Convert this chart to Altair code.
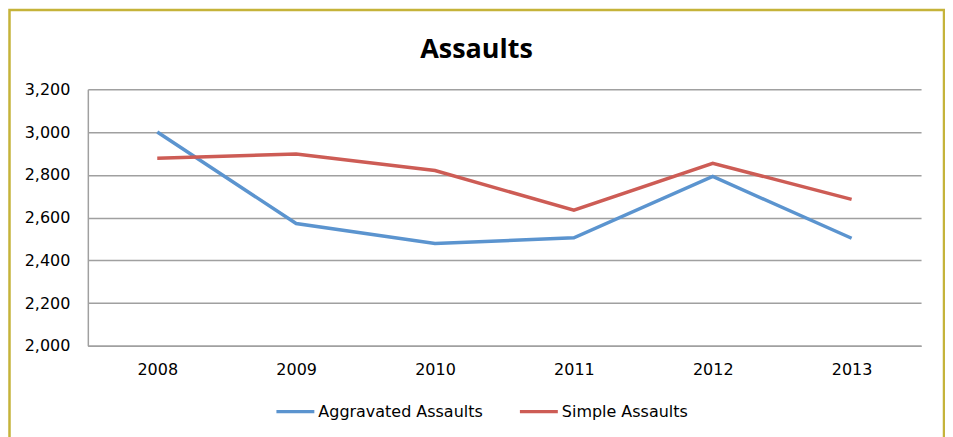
import altair as alt
import pandas as pd

years = ["2008", "2009", "2010", "2011", "2012", "2013"]
aggravated = [3000, 2572, 2479, 2505, 2792, 2503]
simple = [2878, 2897, 2820, 2634, 2854, 2685]
series_names = ["Aggravated Assaults", "Simple Assaults"]
series_colors = ["#5B94CF", "#CD5C55"]

rows = []
for name, vals in zip(series_names, [aggravated, simple]):
    for y, v in zip(years, vals):
        rows.append({"Year": y, "Value": v, "Series": name})
df = pd.DataFrame(rows)

FONT = "DejaVu Sans"
TITLE_FONT = "Open Sans"

lines = alt.Chart(df).mark_line(strokeWidth=3.5).encode(
    x=alt.X("Year:O", sort=years, title=None,
            axis=alt.Axis(labelAngle=0, ticks=False, grid=False, domainColor="#A0A0A0",
                          domainWidth=1.5, labelFontSize=16, labelFont=FONT,
                          labelColor="#000000", labelPadding=16)),
    y=alt.Y("Value:Q", title=None,
            scale=alt.Scale(domain=[2000, 3200], nice=False, zero=False),
            axis=alt.Axis(values=[2000, 2200, 2400, 2600, 2800, 3000, 3200], format=",.0f",
                          ticks=False, gridColor="#A0A0A0", gridWidth=1.5,
                          domainColor="#A0A0A0", domainWidth=1.5, labelFontSize=16,
                          labelFont=FONT, labelColor="#000000", labelPadding=18)),
    color=alt.Color("Series:N", sort=series_names,
                    scale=alt.Scale(domain=series_names, range=series_colors),
                    legend=alt.Legend(title=None, orient="none", direction="horizontal",
                                      legendX=187, legendY=302, symbolType="stroke",
                                      symbolSize=1444, symbolStrokeWidth=3.5,
                                      labelFontSize=16, labelFont=FONT, labelColor="#000000",
                                      labelOffset=2, columnPadding=30, labelLimit=400)),
)

border = alt.Chart(alt.Data(values=[{"b": 1}])).mark_rect(
    fill=None, stroke="#C5B33A", strokeWidth=2.5
).encode(
    x=alt.value(-78.5), x2=alt.value(858), y=alt.value(-79.5), y2=alt.value(381)
)

chart = alt.layer(border, lines).properties(
    width=835, height=257,
    title=alt.Title("Assaults", fontSize=27, fontWeight="bold", font=TITLE_FONT,
                    color="#000000", anchor="middle", frame="group", dx=-28,
                    baseline="alphabetic", offset=0, dy=76),
    autosize=alt.AutoSizeParams(type="none"),
    padding={"left": 80, "top": 81, "right": 24, "bottom": 120},
).configure_view(stroke=None)

chart.save("out.html", embed_options={"renderer": "svg", "actions": False})
